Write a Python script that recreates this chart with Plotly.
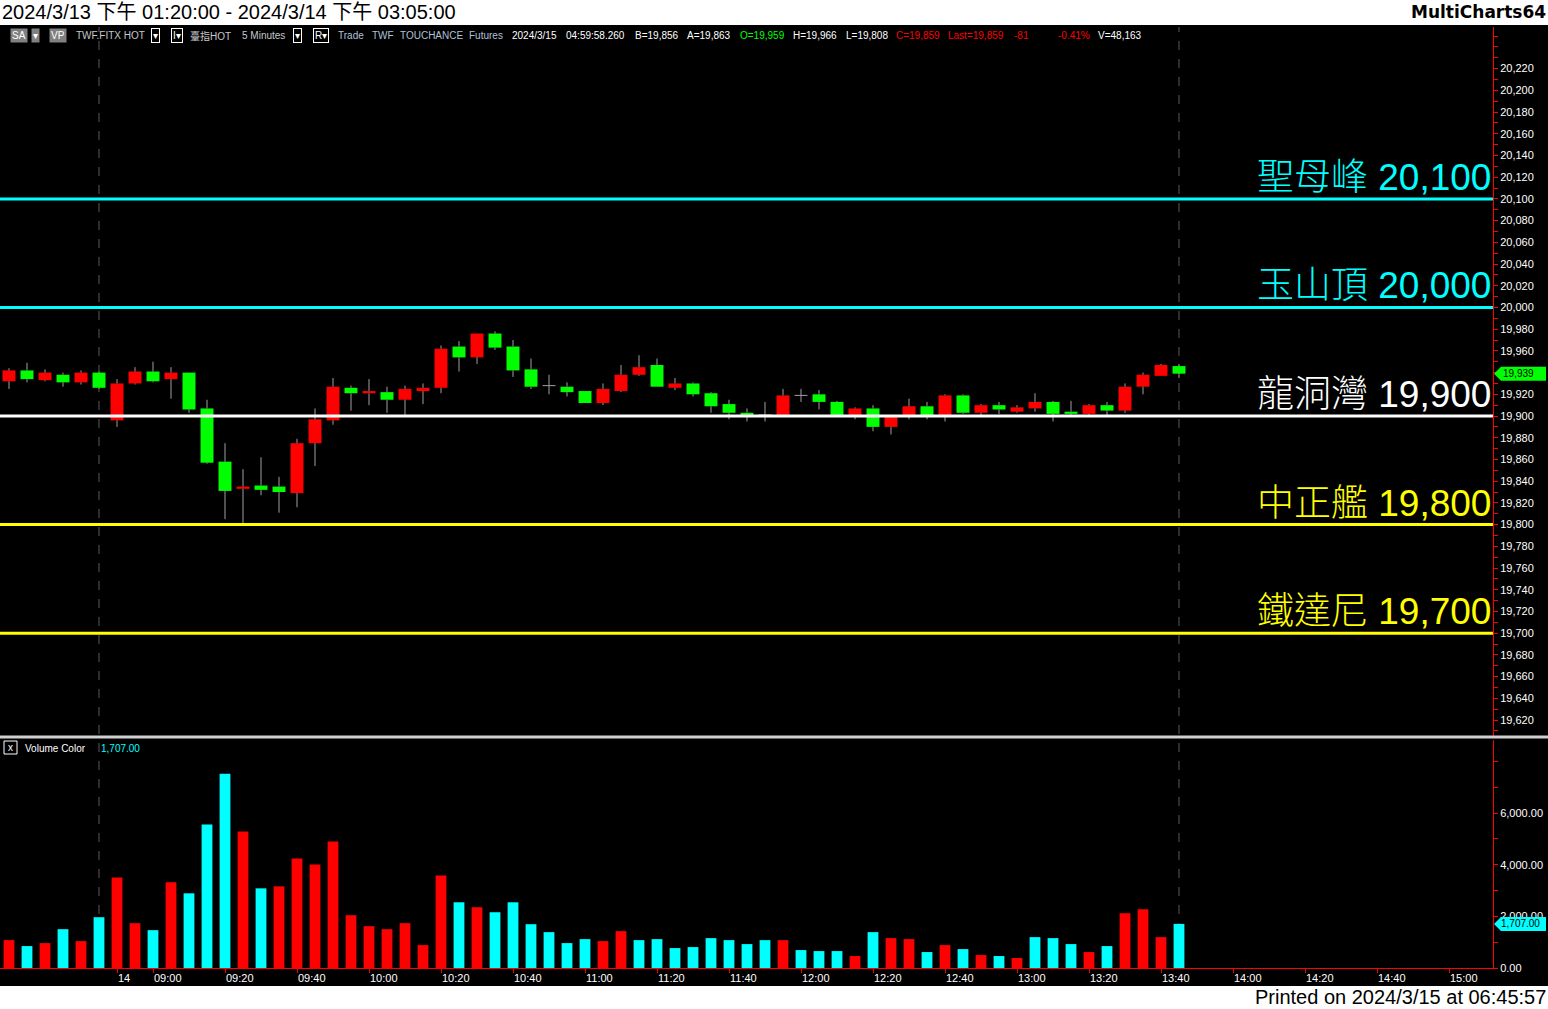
import plotly.graph_objects as go

# ---------------- data (5-minute bars, TWF.FITX HOT) ----------------
bar_labels = ["13:20", "13:25", "13:30", "13:35", "13:40", "13:45",
              "08:50", "08:55", "09:00", "09:05", "09:10", "09:15", "09:20", "09:25", "09:30", "09:35",
              "09:40", "09:45", "09:50", "09:55", "10:00", "10:05", "10:10", "10:15", "10:20", "10:25",
              "10:30", "10:35", "10:40", "10:45", "10:50", "10:55", "11:00", "11:05", "11:10", "11:15",
              "11:20", "11:25", "11:30", "11:35", "11:40", "11:45", "11:50", "11:55", "12:00", "12:05",
              "12:10", "12:15", "12:20", "12:25", "12:30", "12:35", "12:40", "12:45", "12:50", "12:55",
              "13:00", "13:05", "13:10", "13:15", "13:20", "13:25", "13:30", "13:35", "13:40", "13:45"]

opens = [19932, 19942, 19933, 19938, 19931, 19940, 19896, 19930, 19941, 19934,
         19940, 19907, 19858, 19833, 19836, 19835, 19829, 19875, 19896, 19926,
         19921, 19922, 19915, 19923, 19926, 19964, 19954, 19976, 19964, 19943,
         19928, 19927, 19923, 19912, 19923, 19938, 19947, 19926, 19930, 19921,
         19911, 19903, 19901, 19901, 19919, 19920, 19913, 19901, 19907, 19890,
         19900, 19909, 19900, 19919, 19903, 19910, 19904, 19907, 19913, 19904,
         19902, 19910, 19905, 19927, 19937, 19946]
highs = [19944, 19949, 19943, 19940, 19942, 19941, 19934, 19945, 19950, 19945,
         19940, 19915, 19875, 19851, 19862, 19844, 19879, 19907, 19935, 19928,
         19934, 19927, 19928, 19930, 19965, 19969, 19976, 19978, 19970, 19953,
         19938, 19931, 19923, 19930, 19947, 19956, 19953, 19935, 19931, 19922,
         19915, 19907, 19913, 19925, 19925, 19924, 19914, 19908, 19910, 19900,
         19916, 19913, 19920, 19920, 19911, 19913, 19910, 19921, 19914, 19914,
         19911, 19913, 19930, 19940, 19948, 19948]
lows = [19925, 19931, 19932, 19927, 19929, 19925, 19890, 19929, 19931, 19916,
        19903, 19856, 19805, 19801, 19827, 19811, 19816, 19854, 19892, 19905,
        19910, 19903, 19901, 19911, 19921, 19941, 19948, 19961, 19936, 19925,
        19920, 19918, 19912, 19910, 19922, 19937, 19927, 19924, 19918, 19903,
        19897, 19895, 19895, 19900, 19913, 19906, 19900, 19897, 19886, 19883,
        19897, 19897, 19895, 19902, 19901, 19902, 19903, 19904, 19895, 19900,
        19901, 19901, 19903, 19920, 19937, 19935]
closes = [19942, 19934, 19940, 19931, 19940, 19926, 19930, 19941, 19932, 19940,
          19906, 19857, 19831, 19835, 19832, 19830, 19875, 19897, 19927, 19921,
          19923, 19915, 19925, 19926, 19962, 19954, 19976, 19963, 19942, 19927,
          19928, 19922, 19912, 19925, 19938, 19945, 19927, 19930, 19920, 19909,
          19903, 19901, 19901, 19919, 19919, 19913, 19901, 19907, 19890, 19900,
          19909, 19900, 19919, 19903, 19910, 19906, 19908, 19913, 19902, 19902,
          19910, 19905, 19927, 19938, 19947, 19939]

volumes = [1080, 848, 964, 1503, 1041, 1966, 3508, 1735, 1465, 3315,
           2891, 5551, 7517, 5281, 3084, 3161, 4240, 4009, 4896, 2043,
           1619, 1503, 1735, 887, 3585, 2544, 2352, 2159, 2544, 1696,
           1388, 964, 1118, 1041, 1426, 1079, 1118, 771, 810, 1157,
           1079, 925, 1079, 1079, 694, 655, 655, 463, 1388, 1157,
           1118, 617, 887, 732, 501, 463, 386, 1195, 1157, 925,
           617, 848, 2120, 2274, 1195, 1707]
vol_side = ["r", "c", "r", "c", "r", "c", "r", "r", "c", "r",
            "c", "c", "c", "r", "c", "r", "r", "r", "r", "r",
            "r", "r", "r", "r", "r", "c", "r", "c", "c", "c",
            "c", "c", "c", "r", "r", "c", "c", "c", "c", "c",
            "c", "c", "c", "r", "c", "c", "c", "r", "c", "r",
            "r", "c", "r", "c", "r", "c", "r", "c", "c", "c",
            "r", "c", "r", "r", "r", "c"]

axis_tick_pos = [6, 8, 12, 16, 20, 24, 28, 32, 36, 40, 44, 48, 52, 56, 60, 64, 68, 72, 76, 80]
axis_tick_text = ["14", "09:00", "09:20", "09:40", "10:00", "10:20", "10:40", "11:00", "11:20",
                  "11:40", "12:00", "12:20", "12:40", "13:00", "13:20", "13:40", "14:00", "14:20",
                  "14:40", "15:00"]
session_breaks = [5, 65]

price_ticks = [19620, 19640, 19660, 19680, 19700, 19720, 19740, 19760, 19780, 19800,
               19820, 19840, 19860, 19880, 19900, 19920, 19940, 19960, 19980, 20000,
               20020, 20040, 20060, 20080, 20100, 20120, 20140, 20160, 20180, 20200, 20220]
volume_ticks = [0, 2000, 4000, 6000]

level_names = ["聖母峰", "玉山頂", "龍洞灣", "中正艦", "鐵達尼"]
level_values = [20100, 20000, 19900, 19800, 19700]
level_colors = ["#00ffff", "#00ffff", "#ffffff", "#ffff00", "#ffff00"]

last_price = 19939
last_volume = 1707

# ---------------- geometry helpers ----------------
W, H = 1548, 1009
ML, MR, MT, MB = 0, 55, 27, 41
PW, PH = W - ML - MR, H - MT - MB


def px(x):
    return (x - ML) / PW


def py(y):
    return (H - MB - y) / PH


RED = "#ff0000"
GREEN = "#00ff00"
CYAN = "#00ffff"
FONT = "Liberation Sans, Arial, Noto Sans CJK TC, sans-serif"

n = len(opens)
idx = list(range(n))

# candle bodies
body_x, body_y, body_base, body_col = [], [], [], []
wick_x, wick_y = [], []
for i, (o, h, l, c) in enumerate(zip(opens, highs, lows, closes)):
    top, bot = max(o, c), min(o, c)
    if c != o:
        body_x.append(i)
        body_y.append(top - bot)
        body_base.append(bot)
        body_col.append(RED if c > o else GREEN)
    else:
        wick_x += [i - 0.36, i + 0.36, None]
        wick_y += [o, o, None]
    if h > top:
        wick_x += [i, i, None]
        wick_y += [top, h, None]
    if l < bot:
        wick_x += [i, i, None]
        wick_y += [bot, l, None]

fig = go.Figure()
fig.add_trace(go.Bar(x=body_x, y=body_y, base=body_base, width=0.72,
                     marker=dict(color=body_col, line=dict(width=0)),
                     xaxis="x", yaxis="y", hoverinfo="skip"))
fig.add_trace(go.Scatter(x=wick_x, y=wick_y, mode="lines",
                         line=dict(color="#a0a0a0", width=1),
                         xaxis="x", yaxis="y", hoverinfo="skip"))
fig.add_trace(go.Bar(x=idx, y=volumes, width=0.6,
                     marker=dict(color=[RED if s == "r" else CYAN for s in vol_side], line=dict(width=0)),
                     xaxis="x2", yaxis="y2", hoverinfo="skip"))

xr = [-0.5, -0.5 + PW / 18.0]

shapes = []
# white title / footer strips
shapes.append(dict(type="rect", xref="paper", yref="paper", x0=px(0), x1=px(W), y0=py(25), y1=py(0),
                   fillcolor="white", line=dict(width=0), layer="above"))
shapes.append(dict(type="rect", xref="paper", yref="paper", x0=px(0), x1=px(W), y0=py(H), y1=py(986),
                   fillcolor="white", line=dict(width=0), layer="above"))
# panel separator
shapes.append(dict(type="line", xref="paper", yref="paper", x0=px(0), x1=px(W), y0=py(737), y1=py(737),
                   line=dict(color="#d0d0d0", width=3), layer="above"))
# session break dashed lines
for b in session_breaks:
    shapes.append(dict(type="line", xref="x", yref="paper", x0=b, x1=b, y0=0, y1=1,
                       line=dict(color="#5a5a5a", width=1, dash="dash"), layer="below"))
# level lines
for v, col in zip(level_values, level_colors):
    shapes.append(dict(type="line", xref="paper", yref="y", x0=0, x1=1, y0=v, y1=v,
                       line=dict(color=col, width=3), layer="above"))
# price / volume tags
shapes.append(dict(type="path", xref="paper", yref="y", xsizemode="pixel", ysizemode="pixel",
                   xanchor=1, yanchor=last_price, path="M1,0 L8,7 L53,7 L53,-7 L8,-7 Z",
                   fillcolor=GREEN, line=dict(width=0), layer="above"))
shapes.append(dict(type="path", xref="paper", yref="y2", xsizemode="pixel", ysizemode="pixel",
                   xanchor=1, yanchor=last_volume, path="M1,0 L8,7 L53,7 L53,-7 L8,-7 Z",
                   fillcolor=CYAN, line=dict(width=0), layer="above"))
# checkbox in volume header
shapes.append(dict(type="rect", xref="paper", yref="paper", x0=px(4), x1=px(17), y0=py(754), y1=py(741),
                   line=dict(color="white", width=1), fillcolor="black", layer="above"))

ann = []
# titles
ann.append(dict(text="2024/3/13 下午 01:20:00 - 2024/3/14 下午 03:05:00", xref="paper", yref="paper",
                x=px(0), y=py(12), xanchor="left", yanchor="middle", showarrow=False,
                font=dict(family=FONT, size=20, color="black")))
ann.append(dict(text="<b>MultiCharts64</b>", xref="paper", yref="paper",
                x=px(1548), y=py(12), xanchor="right", yanchor="middle", showarrow=False,
                font=dict(family="DejaVu Sans, Verdana, sans-serif", size=17, color="black")))
ann.append(dict(text="Printed on 2024/3/15 at 06:45:57", xref="paper", yref="paper",
                x=px(1548), y=py(997), xanchor="right", yanchor="middle", showarrow=False,
                font=dict(family=FONT, size=20, color="black")))

# header row
header_items = [
    ("SA", 10, "#ffffff", "#808080", None),
    ("▾", 31, "#ffffff", "#808080", None),
    ("VP", 49, "#ffffff", "#808080", None),
    ("TWF.FITX HOT", 74, "#c8c8c8", None, None),
    ("▾", 151, "#ffffff", "black", "#ffffff"),
    ("I▾", 171, "#ffffff", "black", "#ffffff"),
    ("臺指HOT", 188, "#c8c8c8", None, None),
    ("5 Minutes", 240, "#c8c8c8", None, None),
    ("▾", 293, "#ffffff", "black", "#ffffff"),
    ("R▾", 313, "#ffffff", "black", "#ffffff"),
    ("Trade", 336, "#b0c0d8", None, None),
    ("TWF", 370, "#b0c0d8", None, None),
    ("TOUCHANCE", 398, "#b0c0d8", None, None),
    ("Futures", 467, "#b0c0d8", None, None),
    ("2024/3/15", 510, "#ffffff", None, None),
    ("04:59:58.260", 564, "#ffffff", None, None),
    ("B=19,856", 633, "#ffffff", None, None),
    ("A=19,863", 685, "#ffffff", None, None),
    ("O=19,959", 738, GREEN, None, None),
    ("H=19,966", 791, "#ffffff", None, None),
    ("L=19,808", 844, "#ffffff", None, None),
    ("C=19,859", 894, RED, None, None),
    ("Last=19,859", 946, RED, None, None),
    ("-81", 1012, RED, None, None),
    ("-0.41%", 1056, RED, None, None),
    ("V=48,163", 1096, "#ffffff", None, None),
]
for txt, x0, col, bg, bd in header_items:
    a = dict(text=txt, xref="paper", yref="paper", x=px(x0), y=py(36), xanchor="left", yanchor="middle",
             showarrow=False, font=dict(family=FONT, size=10, color=col), borderpad=1)
    if bg:
        a["bgcolor"] = bg
    if bd:
        a["bordercolor"] = bd
        a["borderwidth"] = 1
    ann.append(a)

ann.append(dict(text="x", xref="paper", yref="paper", x=px(10.5), y=py(747.5), xanchor="center",
                yanchor="middle", showarrow=False, font=dict(family=FONT, size=10, color="white")))
ann.append(dict(text="Volume Color", xref="paper", yref="paper", x=px(23), y=py(748), xanchor="left",
                yanchor="middle", showarrow=False, font=dict(family=FONT, size=10, color="white")))
ann.append(dict(text=f"{last_volume:,.2f}", xref="paper", yref="paper", x=px(99), y=py(748), xanchor="left",
                yanchor="middle", showarrow=False, font=dict(family=FONT, size=10, color=CYAN)))

# level labels
for name, v, col in zip(level_names, level_values, level_colors):
    ann.append(dict(text=f"{name} {v:,}", xref="paper", yref="y", x=1, y=v, xanchor="right",
                    yanchor="bottom", yshift=-1, showarrow=False,
                    font=dict(family=FONT, size=37, color=col, weight=300)))

# tags text
ann.append(dict(text=f"{last_price:,}", xref="paper", yref="y", x=px(PW + 9), y=last_price,
                xanchor="left", yanchor="middle", showarrow=False, bgcolor=GREEN, borderpad=0,
                font=dict(family=FONT, size=10, color="black")))
ann.append(dict(text=f"{last_volume:,.2f}", xref="paper", yref="y2", x=px(PW + 7), y=last_volume,
                xanchor="left", yanchor="middle", showarrow=False, bgcolor=CYAN, borderpad=0,
                font=dict(family=FONT, size=10, color="black")))

tickfont = dict(family=FONT, size=11, color="white")

fig.update_layout(
    width=W, height=H,
    margin=dict(l=ML, r=MR, t=MT, b=MB, pad=0),
    paper_bgcolor="black", plot_bgcolor="black",
    showlegend=False, barmode="overlay",
    shapes=shapes, annotations=ann,
    xaxis=dict(domain=[0, 1], range=xr, anchor="y", showticklabels=False, showgrid=False,
               zeroline=False, showline=False, ticks=""),
    yaxis=dict(domain=[py(736), 1], range=[19605.3, 20258.3], side="right", anchor="x",
               tickmode="array", tickvals=price_ticks, tickformat=",d", ticks="outside", ticklen=4,
               tickcolor=RED, showline=True, linecolor=RED, linewidth=1, showgrid=False,
               zeroline=False, tickfont=tickfont,
               minor=dict(tick0=20000, dtick=10, ticks="outside", ticklen=4, tickcolor=RED, showgrid=False)),
    xaxis2=dict(domain=[0, 1], range=xr, anchor="y2", matches="x", tickmode="array",
                tickvals=axis_tick_pos, ticktext=axis_tick_text, ticks="outside", ticklen=4,
                tickcolor=RED, showline=True, linecolor=RED, linewidth=1, showgrid=False,
                zeroline=False, tickfont=tickfont, ticklabelposition="outside right"),
    yaxis2=dict(domain=[0, py(740)], range=[0, 8826], side="right", anchor="x2",
                tickmode="array", tickvals=volume_ticks, tickformat=",.2f", ticks="outside", ticklen=4,
                tickcolor=RED, showline=True, linecolor=RED, linewidth=1, showgrid=False,
                zeroline=False, tickfont=tickfont,
                minor=dict(tick0=0, dtick=1000, ticks="outside", ticklen=4, tickcolor=RED, showgrid=False)),
)

fig.write_html("out.html", config={"displayModeBar": False},
               post_script="document.body.style.margin='0';document.body.style.padding='0';"
                           "document.documentElement.style.overflow='hidden';")
